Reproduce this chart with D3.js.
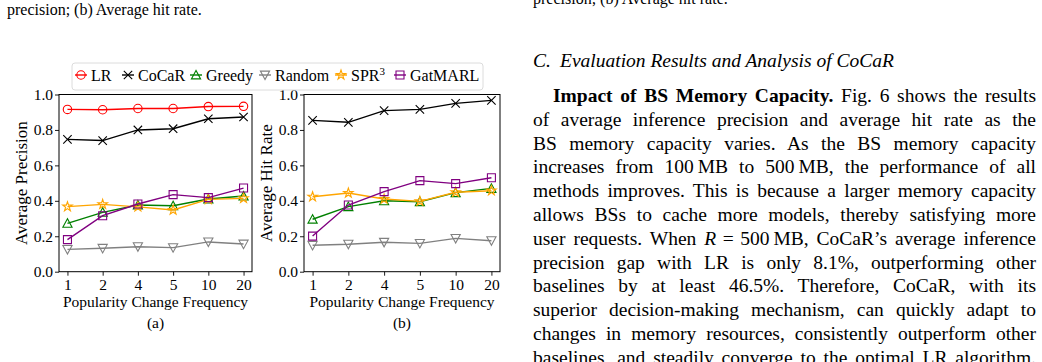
<!DOCTYPE html>
<html>
<head>
<meta charset="utf-8">
<script src="https://cdn.jsdelivr.net/npm/d3@7"></script>
<style>
  body { margin: 0; background: #fff; }
  svg text { font-family: "Liberation Serif", "Times New Roman", serif; fill: #000; }
</style>
</head>
<body>
<svg id="page" width="1042" height="362"></svg>
<script>
// x categories (popularity change frequency)
const freqs = ["1", "2", "4", "5", "10", "20"];
const yTicks = [0, 0.2, 0.4, 0.6, 0.8, 1.0];

// (a) average precision
const precLR      = [0.916, 0.914, 0.921, 0.921, 0.932, 0.933];
const precCoCaR   = [0.747, 0.740, 0.800, 0.807, 0.863, 0.873];
const precGreedy  = [0.273, 0.335, 0.376, 0.372, 0.410, 0.427];
const precRandom  = [0.126, 0.132, 0.141, 0.136, 0.168, 0.156];
const precSPR3    = [0.367, 0.380, 0.366, 0.348, 0.408, 0.414];
const precGatMARL = [0.181, 0.316, 0.382, 0.435, 0.418, 0.472];

// (b) average hit rate
const hitCoCaR   = [0.854, 0.843, 0.909, 0.916, 0.950, 0.967];
const hitGreedy  = [0.296, 0.367, 0.400, 0.395, 0.446, 0.470];
const hitRandom  = [0.149, 0.155, 0.166, 0.160, 0.188, 0.175];
const hitSPR3    = [0.423, 0.444, 0.410, 0.397, 0.448, 0.457];
const hitGatMARL = [0.201, 0.376, 0.452, 0.514, 0.497, 0.530];

const methods = ["LR", "CoCaR", "Greedy", "Random", "SPR3", "GatMARL"];

const style = {
  LR:      { color: "#ff0000", marker: "circle" },
  CoCaR:   { color: "#000000", marker: "x" },
  Greedy:  { color: "#008000", marker: "tri-up" },
  Random:  { color: "#808080", marker: "tri-down" },
  SPR3:    { color: "#ffa500", marker: "star" },
  GatMARL: { color: "#800080", marker: "square" }
};

const svg = d3.select("#page");

function markerPath(type) {
  const p = d3.path();
  if (type === "x") {
    const r = 4.2;
    p.moveTo(-r, -r); p.lineTo(r, r); p.moveTo(-r, r); p.lineTo(r, -r);
  } else if (type === "tri-up") {
    const r = 4.6;
    p.moveTo(0, -r); p.lineTo(-r, r * 0.85); p.lineTo(r, r * 0.85); p.closePath();
  } else if (type === "tri-down") {
    const r = 4.6;
    p.moveTo(0, r); p.lineTo(-r, -r * 0.85); p.lineTo(r, -r * 0.85); p.closePath();
  } else if (type === "square") {
    const r = 4;
    p.rect(-r, -r, 2 * r, 2 * r);
  } else if (type === "star") {
    const R = 5, ri = R * 0.382;
    for (let i = 0; i < 10; i++) {
      const a = -Math.PI / 2 + i * Math.PI / 5;
      const rr = i % 2 === 0 ? R : ri;
      if (i === 0) p.moveTo(rr * Math.cos(a), rr * Math.sin(a));
      else p.lineTo(rr * Math.cos(a), rr * Math.sin(a));
    }
    p.closePath();
  }
  return p.toString();
}

function drawMarker(g, name, x, y) {
  const s = style[name];
  if (s.marker === "circle") {
    g.append("circle").attr("cx", x).attr("cy", y).attr("r", 4.2)
      .attr("fill", "none").attr("stroke", s.color).attr("stroke-width", 1.1);
  } else {
    g.append("path").attr("d", markerPath(s.marker))
      .attr("transform", `translate(${x},${y})`)
      .attr("fill", "none").attr("stroke", s.color).attr("stroke-width", 1.1);
  }
}

function drawChart(x0, x1, series, ylabel, caption) {
  const top = 94.5, bottom = 271.7;
  const x = d3.scalePoint().domain(freqs).range([x0, x1]).padding(0.24);
  const y = d3.scaleLinear().domain([0, 1]).range([bottom, top]);
  const g = svg.append("g");

  const line = d3.line().x((d, i) => x(freqs[i])).y(d => y(d));
  series.forEach(s => {
    g.append("path").datum(s.values)
      .attr("d", line).attr("fill", "none")
      .attr("stroke", style[s.name].color).attr("stroke-width", 1.4);
    s.values.forEach((v, i) => drawMarker(g, s.name, x(freqs[i]), y(v)));
  });

  const yAxis = g.append("g").attr("transform", `translate(${x0},0)`)
    .call(d3.axisLeft(y).tickValues(yTicks).tickFormat(d3.format(".1f")).tickSize(4).tickPadding(2));
  const xAxis = g.append("g").attr("transform", `translate(0,${bottom})`)
    .call(d3.axisBottom(x).tickSize(4).tickPadding(3));
  [yAxis, xAxis].forEach(a => {
    a.select(".domain").remove();
    a.selectAll("line").attr("stroke", "#000").attr("stroke-width", 0.9);
    a.selectAll("text").style("font-family", '"Liberation Serif", serif')
      .style("font-size", "15.5px").attr("fill", "#000");
  });

  g.append("rect").attr("x", x0).attr("y", top)
    .attr("width", x1 - x0).attr("height", bottom - top)
    .attr("fill", "none").attr("stroke", "#000").attr("stroke-width", 1);

  const cx = (x0 + x1) / 2;
  g.append("text").attr("x", cx).attr("y", 307).attr("text-anchor", "middle")
    .style("font-size", "15.5px").text("Popularity Change Frequency");
  g.append("text").attr("x", cx).attr("y", 328).attr("text-anchor", "middle")
    .style("font-size", "15.5px").text(caption);
  g.append("text")
    .attr("transform", `translate(${x0 - 32},${(top + bottom) / 2}) rotate(-90)`)
    .attr("text-anchor", "middle").style("font-size", "17px").text(ylabel);
}

drawChart(59, 252, [
  { name: "LR", values: precLR },
  { name: "CoCaR", values: precCoCaR },
  { name: "Greedy", values: precGreedy },
  { name: "Random", values: precRandom },
  { name: "SPR3", values: precSPR3 },
  { name: "GatMARL", values: precGatMARL }
], "Average Precision", "(a)");

drawChart(304, 500, [
  { name: "CoCaR", values: hitCoCaR },
  { name: "Greedy", values: hitGreedy },
  { name: "Random", values: hitRandom },
  { name: "SPR3", values: hitSPR3 },
  { name: "GatMARL", values: hitGatMARL }
], "Average Hit Rate", "(b)");

// legend
const leg = svg.append("g");
leg.append("rect").attr("x", 72).attr("y", 63).attr("width", 411).attr("height", 27)
  .attr("rx", 3).attr("fill", "#fff").attr("stroke", "#dcdcdc").attr("stroke-width", 1);
const legX = [81, 128, 196, 265, 341, 400];
methods.forEach((m, i) => {
  const cx = legX[i];
  leg.append("line").attr("x1", cx - 6).attr("x2", cx + 6).attr("y1", 75).attr("y2", 75)
    .attr("stroke", style[m].color).attr("stroke-width", 1.4);
  drawMarker(leg, m, cx, 75);
  const t = leg.append("text").attr("x", cx + 10).attr("y", 80.5).style("font-size", "16px");
  if (m === "SPR3") {
    t.append("tspan").text("SPR");
    t.append("tspan").attr("dy", -6).style("font-size", "11px").text("3");
  } else {
    t.text(m);
  }
});

// surrounding page text
svg.append("text").attr("x", 7).attr("y", 15).style("font-size", "16px").text("precision; (b) Average hit rate.");
svg.append("text").attr("x", 533).attr("y", 4).style("font-size", "16px").text("precision; (b) Average hit rate.");

const head = svg.append("text").attr("x", 533).attr("y", 67).style("font-size", "19.5px").style("font-style", "italic");
head.append("tspan").text("C.");
head.append("tspan").attr("x", 560).text("Evaluation Results and Analysis of CoCaR");

const colL = 533, colR = 1036;
const bodyLines = [
  [["b", "Impact of BS Memory Capacity."], ["", " Fig. 6 shows the results"]],
  [["", "of average inference precision and average hit rate as the"]],
  [["", "BS memory capacity varies. As the BS memory capacity"]],
  [["", "increases from 100\u2009MB to 500\u2009MB, the performance of all"]],
  [["", "methods improves. This is because a larger memory capacity"]],
  [["", "allows BSs to cache more models, thereby satisfying more"]],
  [["", "user requests. When "], ["i", "R"], ["", "\u2004=\u2004500\u2009MB, CoCaR\u2019s average inference"]],
  [["", "precision gap with LR is only 8.1%, outperforming other"]],
  [["", "baselines by at least 46.5%. Therefore, CoCaR, with its"]],
  [["", "superior decision-making mechanism, can quickly adapt to"]],
  [["", "changes in memory resources, consistently outperform other"]],
  [["", "baselines, and steadily converge to the optimal LR algorithm."]]
];
bodyLines.forEach((segs, i) => {
  const x = i === 0 ? 553 : colL;
  const t = svg.append("text").attr("x", x).attr("y", 102 + i * 23.8).style("font-size", "19.5px");
  segs.forEach(([k, s]) => {
    const sp = t.append("tspan").text(s);
    if (k === "b") sp.style("font-weight", "bold");
    if (k === "i") sp.style("font-style", "italic");
  });
  const w = t.node().getComputedTextLength();
  const spaces = segs.map(d => d[1]).join("").split(" ").length - 1;
  if (spaces > 0) t.style("word-spacing", ((colR - x - w) / spaces) + "px");
});
</script>
</body>
</html>
